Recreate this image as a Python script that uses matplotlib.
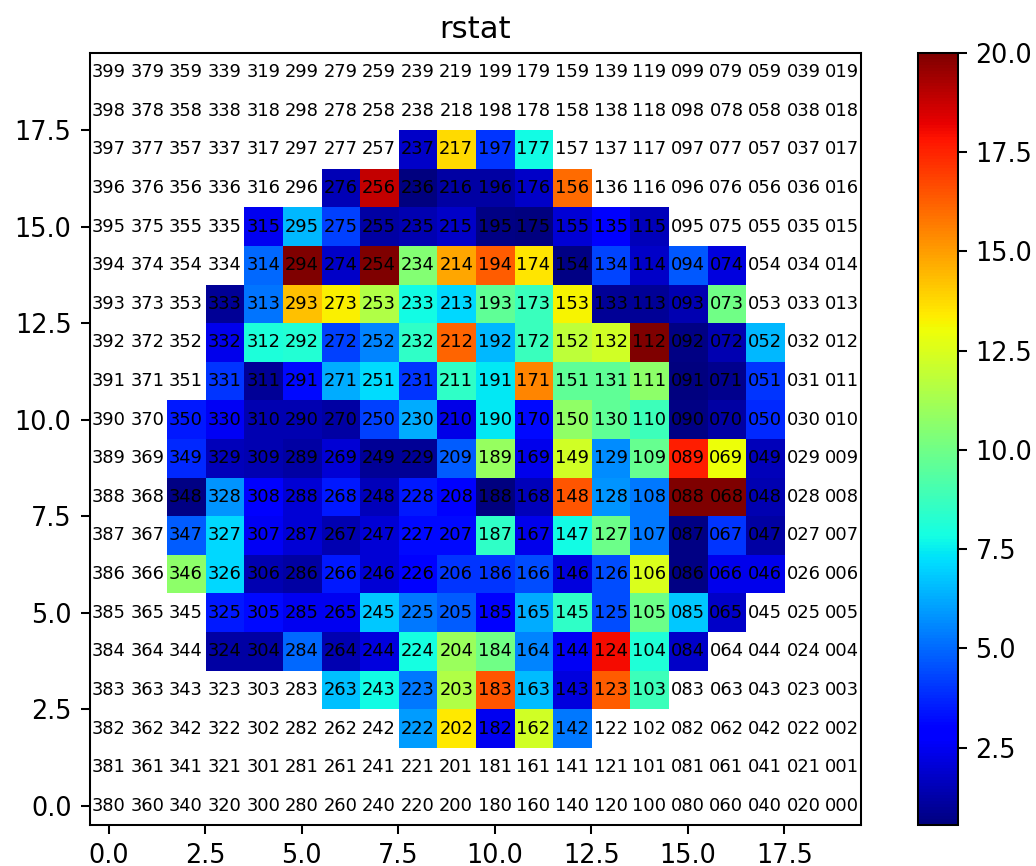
import numpy as np
import matplotlib
matplotlib.use("Agg")
import matplotlib.pyplot as plt

N = 20

# rstat per detector row (y index); each row starts at the given column
first_col = {2: 8, 3: 6, 4: 3, 5: 3, 6: 2, 7: 2, 8: 2, 9: 2, 10: 2,
             11: 3, 12: 3, 13: 3, 14: 4, 15: 4, 16: 6, 17: 8}

row_02 = [6.0, 13.4, 2.5, 12.3, 5.3]
row_03 = [6.7, 7.8, 5.3, 11.5, 16.5, 6.6, 2.2, 16.3, 8.8]
row_04 = [1.2, 1.2, 5.0, 1.4, 2.2, 7.9, 11.0, 10.0, 5.5, 2.6, 18.0, 8.1, 1.8]
row_05 = [3.5, 3.2, 2.5, 2.5, 6.8, 5.3, 4.8, 2.8, 6.3, 8.5, 4.5, 9.9, 6.8, 1.8]
row_06 = [10.7, 7.1, 1.4, 1.2, 3.5, 2.0, 2.8, 4.0, 4.0, 4.5, 2.2, 4.5, 12.5, 0.7, 2.4, 2.4]
row_07 = [4.8, 7.1, 2.6, 2.0, 1.4, 2.0, 3.2, 3.2, 8.5, 2.4, 7.8, 9.9, 5.3, 0.7, 4.0, 1.2]
row_08 = [0.7, 5.8, 2.8, 2.0, 3.5, 1.6, 3.5, 3.0, 0.55, 1.6, 16.5, 5.8, 5.3, 21.0, 21.0, 1.4]
row_09 = [3.8, 1.6, 1.4, 1.2, 2.0, 1.0, 1.0, 4.8, 10.9, 2.4, 12.3, 5.7, 9.8, 17.6, 13.0, 1.6]
row_10 = [3.5, 2.6, 1.4, 1.4, 1.2, 4.2, 6.3, 2.3, 7.4, 3.2, 10.8, 9.6, 8.8, 0.7, 1.2, 3.8]
row_11 = [4.0, 1.0, 3.2, 6.3, 7.2, 4.0, 8.5, 7.4, 15.5, 9.6, 9.6, 10.7, 0.6, 0.8, 4.0]
row_12 = [2.4, 8.0, 8.2, 4.2, 5.5, 8.5, 16.2, 6.5, 8.7, 11.8, 12.3, 21.0, 0.7, 1.4, 6.5]
row_13 = [1.0, 5.2, 14.3, 13.3, 11.5, 7.8, 7.1, 9.6, 8.7, 13.2, 1.0, 1.0, 1.4, 10.0]
row_14 = [5.0, 21.0, 1.8, 21.0, 10.5, 14.8, 16.3, 13.5, 0.7, 4.3, 1.8, 4.7, 2.2]
row_15 = [2.5, 6.5, 4.2, 1.2, 1.4, 1.8, 0.7, 0.6, 2.0, 2.7, 1.6]
row_16 = [1.5, 18.8, 0.55, 1.2, 1.2, 1.8, 16.0]
row_17 = [1.8, 13.7, 4.0, 7.8]

rows = {2: row_02, 3: row_03, 4: row_04, 5: row_05, 6: row_06, 7: row_07,
        8: row_08, 9: row_09, 10: row_10, 11: row_11, 12: row_12, 13: row_13,
        14: row_14, 15: row_15, 16: row_16, 17: row_17}

vmax = 20.0

grid = np.full((N, N), np.nan)
for y, vals in rows.items():
    x0 = first_col[y]
    grid[y, x0:x0 + len(vals)] = vals

fig = plt.figure(figsize=(1036 / 184, 866 / 184), dpi=184)
ax = fig.add_axes([89.5 / 1036, 1 - 825 / 866, 772 / 1036, 772 / 866])
cax = fig.add_axes([918 / 1036, 1 - 825 / 866, 39.5 / 1036, 772 / 866])

im = ax.imshow(np.ma.masked_invalid(grid), origin="lower", cmap="jet",
               vmin=np.nanmin(grid), vmax=vmax, interpolation="nearest")

# pixel index labels
for y in range(N):
    for x in range(N):
        ax.text(x, y, f"{(N - 1 - x) * N + y:03d}", ha="center", va="center",
                fontsize=7, color="black")

ax.set_title("rstat", fontsize=12)
ax.tick_params(labelsize=10)
fig.colorbar(im, cax=cax)
cax.tick_params(labelsize=10)

fig.savefig("out.png", dpi=184)
